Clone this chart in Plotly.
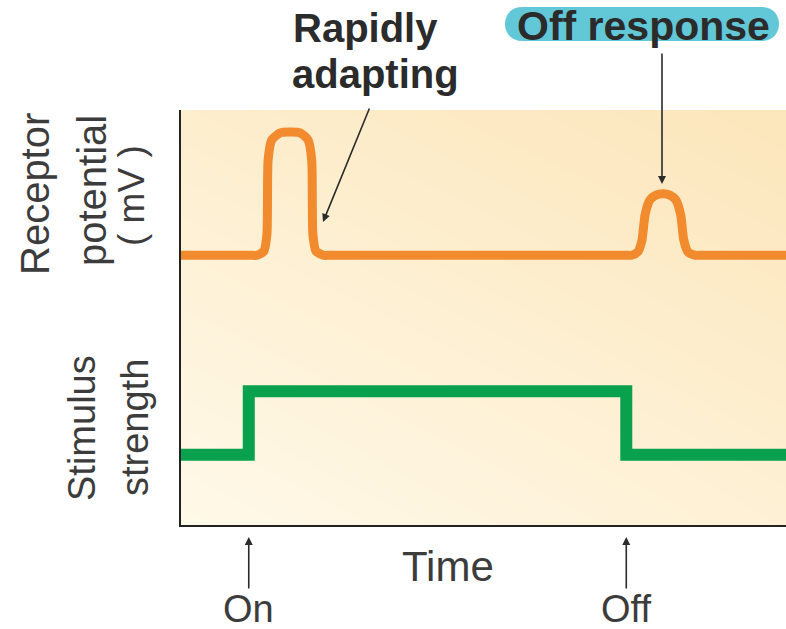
import plotly.graph_objects as go

# ---- data ----
# receptor potential trace (rapidly adapting receptor, with off response)
time_rp = [0, 11.5, 12.6, 13.7, 14.2, 14.4, 15.0, 16.4, 18.0, 19.7, 21.0, 21.6, 21.8, 22.3, 23.5, 24.6,
           73.4, 74.5, 75.5, 76.2, 76.7, 77.5, 78.5, 79.7, 80.8, 81.8, 82.6, 83.1, 83.8, 85.0, 86.1, 100]
receptor_mv = [65, 65, 65, 66, 70, 88, 92.8, 94.5, 94.7, 94.5, 92.8, 88, 70, 66, 65, 65,
               65, 65, 65.8, 68.7, 74.7, 78.3, 79.5, 79.8, 79.5, 78.3, 74.7, 68.7, 65.8, 65, 65, 65]

# stimulus strength (step on / step off)
stim_time = [0, 11.2, 11.2, 73.6, 73.6, 100]
stim_level = [16.9, 16.9, 32.2, 32.2, 16.9, 16.9]

event_times = [11.2, 73.6]
event_labels = ["On", "Off"]

# ---- figure ----
W, H = 786, 629
L, R, T, B = 181, 0, 110, 104
pw, ph = W - L - R, H - T - B


def PX(p):
    return (p - L) / pw


def PY(p):
    return (H - B - p) / ph


fig = go.Figure()

# soft peach background gradient
fig.add_trace(go.Heatmap(
    x=[0, 100], y=[0, 100], z=[[0.0, 0.45], [0.6, 1.0]],
    zsmooth="best", showscale=False, hoverinfo="skip",
    colorscale=[[0, "rgb(255,249,233)"], [1, "rgb(252,230,187)"]],
    zmin=0, zmax=1,
))

fig.add_trace(go.Scatter(
    x=time_rp, y=receptor_mv, mode="lines",
    line=dict(color="#F28A2E", width=9, shape="spline", smoothing=0.6),
    hoverinfo="skip", showlegend=False,
))
fig.add_trace(go.Scatter(
    x=stim_time, y=stim_level, mode="lines",
    line=dict(color="#0AA14E", width=12),
    hoverinfo="skip", showlegend=False,
))

FONT = "Liberation Sans, Arial, sans-serif"
DARK = "#2b2b2b"
GREY = "#3c3c3c"

ann = []


def txt(s, x, y, size, bold=False, angle=0, color=GREY):
    ann.append(dict(text=s, x=x, y=y, xref="paper", yref="paper", showarrow=False,
                    xanchor="center", yanchor="middle", textangle=angle,
                    font=dict(family=FONT, size=size, color=color,
                              weight="bold" if bold else "normal")))


def arrow(x, y, ax, ay, xref="x domain"):
    ann.append(dict(text="", x=x, y=y, xref=xref, yref="y domain",
                    ax=ax, ay=ay, axref=xref, ayref="y domain",
                    showarrow=True, arrowhead=2, arrowsize=1, arrowwidth=1.6,
                    arrowcolor=DARK))


txt("Rapidly", PX(365), PY(28), 40, bold=True, color=DARK)
txt("adapting", PX(375), PY(74), 40, bold=True, color=DARK)
txt("Off response", PX(643), PY(26), 41, bold=True, color=DARK)
txt("Time", PX(448), PY(566), 42)
txt("Receptor", PX(35), PY(194), 40, angle=-90)
txt("potential", PX(92), PY(191), 40, angle=-90)
txt("( mV )", PX(131), PY(196), 37, angle=-90)
txt("Stimulus", PX(82), PY(428), 38, angle=-90)
txt("strength", PX(135), PY(428), 38, angle=-90)
for t, lab in zip(event_times, event_labels):
    ann.append(dict(text=lab, x=t, y=PY(609), xref="x", yref="paper", showarrow=False,
                    xanchor="center", yanchor="middle",
                    font=dict(family=FONT, size=38, color=GREY)))
    arrow(t, PY(537), t, PY(590), xref="x")

# pointer arrows
arrow(PX(323), PY(222), PX(370), PY(107))
arrow(PX(662), PY(184), PX(662), PY(52))

# highlighter band behind "Off response"
x0, x1 = PX(505), PX(779)
yt, yb = PY(7), PY(41)
rx = 17 / pw
k = 4 / 3 * rx
path = (f"M {x0+rx},{yb} L {x1-rx},{yb} C {x1-rx+k},{yb} {x1-rx+k},{yt} {x1-rx},{yt} "
        f"L {x0+rx},{yt} C {x0+rx-k},{yt} {x0+rx-k},{yb} {x0+rx},{yb} Z")
shapes = [dict(type="path", path=path, xref="paper", yref="paper",
               fillcolor="#62C7D6", line=dict(width=0), layer="below")]

fig.update_layout(
    width=W, height=H,
    margin=dict(l=L, r=R, t=T, b=B),
    paper_bgcolor="white", plot_bgcolor="white",
    showlegend=False,
    annotations=ann, shapes=shapes,
    xaxis=dict(range=[0, 100], showgrid=False, zeroline=False, showticklabels=False,
               ticks="", showline=True, linecolor="#222", linewidth=2, fixedrange=True),
    yaxis=dict(range=[0, 100], showgrid=False, zeroline=False, showticklabels=False,
               ticks="", showline=True, linecolor="#222", linewidth=2, fixedrange=True),
)

fig.write_html("out.html", config={"displayModeBar": False},
               post_script="document.body.style.margin='0';document.body.style.overflow='hidden';")
